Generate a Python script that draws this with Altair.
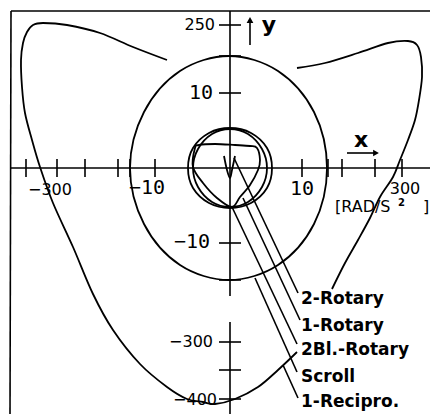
import altair as alt
import pandas as pd

# Drawing coordinates: origin where the two axes cross, +x right, +y up.
X_DOMAIN = [-230, 200]
Y_DOMAIN = [-246, 168]
FRAME_LEFT, FRAME_TOP = -219, 157

# 1-Recipro. locus (outer scale), two open branches
RECIP_L_X = [-63, -97, -130, -163, -187, -197, -203, -207, -209, -208, -205, -198, -190,
             -177, -157, -137, -117, -90, -63, -43, -27, -15, 5, 28, 48, 67]
RECIP_L_Y = [108, 121, 135, 143, 145, 143, 136, 125, 108, 81, 55, 28, 1,
             -35, -79, -126, -162, -196, -219, -231, -234, -236, -231, -219, -202, -184]
RECIP_R_X = [67, 95, 128, 158, 178, 187, 191, 192, 189, 185, 178, 170, 163, 150, 140, 128, 115, 102]
RECIP_R_Y = [100, 105, 115, 125, 127, 123, 111, 91, 68, 48, 28, 8, -9, -29, -50, -72, -95, -121]

# Closed loci (inner scale)
SCROLL_X = [97, 84, 48, -1, -50, -86, -100, -86, -50, -1, 48, 84]
SCROLL_Y = [0, 56, 97, 112, 97, 56, 0, -56, -97, -112, -97, -56]
RING_X = [42, 37, 21, 0, -21, -37, -42, -37, -21, 0, 21, 37]
RING_Y = [0, 20, 35, 40, 35, 20, 0, -20, -35, -40, -35, -20]
ROT1_X = [37, 32, 18, 0, -18, -32, -37, -32, -18, 0, 18, 32]
ROT1_Y = [0, 19, 34, 39, 34, 19, 0, -19, -34, -39, -34, -19]
ROT2_X = [-35, -31, -15, 5, 20, 27, 30, 28, 20, 10, 2, -13, -27, -37]
ROT2_Y = [20, 23, 24, 23, 22, 20, 8, -2, -17, -29, -39, -30, -15, 1]

# 2Bl.-Rotary locus (narrow, open)
BL2_X = [-6, -3, 0, 2, 5]
BL2_Y = [12, -2, -10, -2, 12]

# Axis ticks
X_TICKS = [-204, -173, -145, -112, -100, -75, 72, 98, 112, 145, 172]
Y_TICKS = [143, 112, 75, -75, -112, -174, -202, -231]

# Tick labels
Y_LABELS = ["250", "10", "\u221210", "\u2212300", "\u2212400"]
Y_LABEL_X = [-15, -17, -20, -17, -13]
Y_LABEL_Y = [143, 75, -74, -174, -232]
Y_LABEL_MONO = [False, True, True, False, False]
X_LABELS = ["\u2212300", "\u221210", "10", "300"]
X_LABEL_X = [-180, -83, 72, 175]
X_LABEL_Y = [-22, -20, -21, -21]
X_LABEL_MONO = [False, True, True, False]

# Series labels and their leader lines
SERIES = ["2-Rotary", "1-Rotary", "2Bl.-Rotary", "Scroll", "1-Recipro."]
SERIES_X = [71, 71, 71, 71, 71]
SERIES_Y = [-136, -163, -187, -214, -239]
LEAD_FROM_X = [68, 70, 67, 67, 68]
LEAD_FROM_Y = [-125, -152, -176, -204, -230]
LEAD_TO_X = [4, 13, 2, 25, 53]
LEAD_TO_Y = [10, -30, -39, -110, -197]


def path(name, xs, ys):
    return pd.DataFrame({"curve": name, "x": xs, "y": ys, "k": list(range(len(xs)))})


closed = pd.concat([
    path("scroll", SCROLL_X, SCROLL_Y),
    path("ring", RING_X, RING_Y),
    path("rot1", ROT1_X, ROT1_Y),
    path("rot2", ROT2_X, ROT2_Y),
])
opened = pd.concat([
    path("recip_l", RECIP_L_X, RECIP_L_Y),
    path("recip_r", RECIP_R_X, RECIP_R_Y),
    path("bl2", BL2_X, BL2_Y),
])

segs = []
# frame and axes
segs.append((FRAME_LEFT, FRAME_TOP, X_DOMAIN[1], FRAME_TOP))
segs.append((FRAME_LEFT, FRAME_TOP, FRAME_LEFT - 1, Y_DOMAIN[0]))
segs.append((FRAME_LEFT, 0, X_DOMAIN[1], 0))
segs.append((0, FRAME_TOP, 0, -128))
segs.append((0, -154, 0, Y_DOMAIN[0]))
for t in X_TICKS:
    segs.append((t, -9, t, 9))
for t in Y_TICKS:
    segs.append((-11, t, 11, t))
for a, b, c, d in zip(LEAD_FROM_X, LEAD_FROM_Y, LEAD_TO_X, LEAD_TO_Y):
    segs.append((a, b, c, d))
# direction arrows for x and y
segs.append((117, 15, 146, 15))
segs.append((20, 123, 20, 148))
seg_df = pd.DataFrame(segs, columns=["x", "y", "x2", "y2"])

xsc = alt.Scale(domain=X_DOMAIN, nice=False, zero=False)
ysc = alt.Scale(domain=Y_DOMAIN, nice=False, zero=False)
X = alt.X("x:Q", scale=xsc, axis=None)
Y = alt.Y("y:Q", scale=ysc, axis=None)

rules = alt.Chart(seg_df).mark_rule(color="black", strokeWidth=1.6).encode(
    x=X, y=Y, x2="x2:Q", y2="y2:Q")

closed_lines = alt.Chart(closed).mark_line(
    color="black", strokeWidth=1.8, interpolate="cardinal-closed").encode(
    x=X, y=Y, detail="curve:N", order="k:Q")

open_lines = alt.Chart(opened).mark_line(
    color="black", strokeWidth=1.8, interpolate="cardinal").encode(
    x=X, y=Y, detail="curve:N", order="k:Q")

heads = alt.Chart(pd.DataFrame({"x": [146], "y": [15]})).mark_point(
    shape="triangle-right", filled=True, size=45, color="black", opacity=1).encode(x=X, y=Y)
heads_up = alt.Chart(pd.DataFrame({"x": [20], "y": [148]})).mark_point(
    shape="triangle-up", filled=True, size=45, color="black", opacity=1).encode(x=X, y=Y)


def text_layer(df, **kw):
    return alt.Chart(df).mark_text(color="black", **kw).encode(x=X, y=Y, text="t:N")


ylab = pd.DataFrame({"t": Y_LABELS, "x": Y_LABEL_X, "y": Y_LABEL_Y, "m": Y_LABEL_MONO})
xlab = pd.DataFrame({"t": X_LABELS, "x": X_LABEL_X, "y": X_LABEL_Y, "m": X_LABEL_MONO})

y_sans = text_layer(ylab[~ylab.m], font="DejaVu Sans", fontSize=16, align="right", baseline="middle")
y_mono = text_layer(ylab[ylab.m], font="DejaVu Sans Mono", fontSize=20, align="right", baseline="middle")
x_sans = text_layer(xlab[~xlab.m], font="DejaVu Sans", fontSize=16, align="center", baseline="middle")
x_mono = text_layer(xlab[xlab.m], font="DejaVu Sans Mono", fontSize=20, align="center", baseline="middle")

series = text_layer(pd.DataFrame({"t": SERIES, "x": SERIES_X, "y": SERIES_Y}),
                    font="DejaVu Sans", fontSize=17, fontWeight="bold", align="left",
                    baseline="alphabetic")

axis_names = text_layer(pd.DataFrame({"t": ["x", "y"], "x": [131, 39], "y": [21, 136]}),
                        font="DejaVu Sans", fontSize=22, fontWeight="bold", align="center",
                        baseline="alphabetic")

unit_main = text_layer(pd.DataFrame({"t": ["[RAD/S", "]"], "x": [105, 193], "y": [-44, -44]}),
                       font="DejaVu Sans", fontSize=16, align="left", baseline="alphabetic")
unit_sup = text_layer(pd.DataFrame({"t": ["2"], "x": [168], "y": [-38]}),
                      font="DejaVu Sans", fontSize=10, fontWeight="bold", align="left",
                      baseline="alphabetic")

chart = alt.layer(
    rules, closed_lines, open_lines, heads, heads_up,
    y_sans, y_mono, x_sans, x_mono, series, axis_names, unit_main, unit_sup,
).properties(
    width=430, height=414, padding=0, autosize=alt.AutoSizeParams(type="none"),
    background="white",
).configure_view(strokeWidth=0)

chart.save("out.html", embed_options={"renderer": "svg", "actions": False})
